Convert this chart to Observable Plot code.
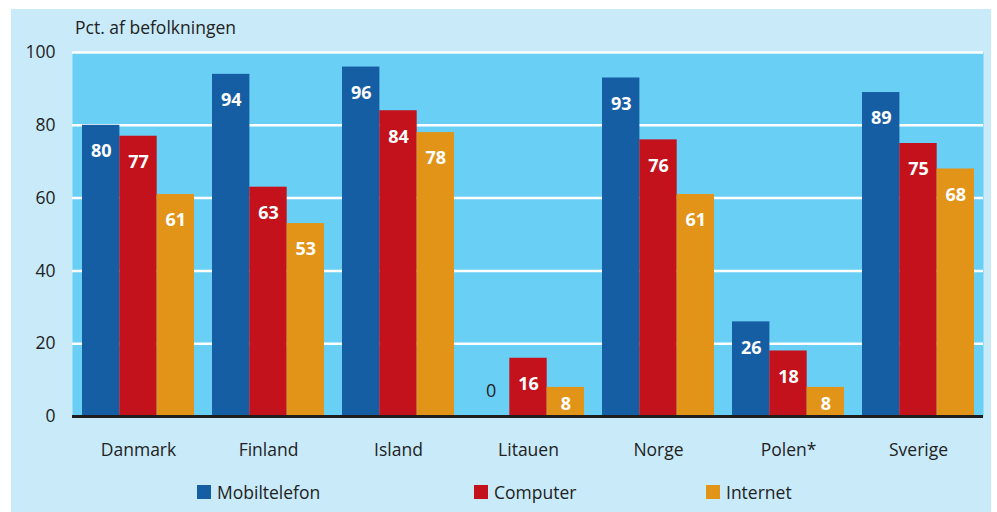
<!DOCTYPE html>
<html><head><meta charset="utf-8">
<script src="https://cdn.jsdelivr.net/npm/d3@7"></script>
<script src="https://cdn.jsdelivr.net/npm/@observablehq/plot@0.6"></script>
<style>
body{margin:0;background:#fff;font-family:"Open Sans",sans-serif;color:#222}
#wrap{position:relative;width:997px;height:512px;overflow:hidden;background:#fff}
#bg{position:absolute;left:11px;top:9px;width:980px;height:503px;background:#c8eaf9}
#title{position:absolute;left:75px;top:14px;font-size:17.5px;line-height:26px;color:#222}
#chart{position:absolute;left:0;top:0}
#legend{position:absolute;left:0;top:479px;width:997px;height:26px;font-size:17.5px}
.li{position:absolute;top:0;display:flex;align-items:center;height:26px}
.sw{width:14px;height:14px;margin-right:6px}
</style></head>
<body><div id="wrap"><div id="bg"></div><div id="chart"></div><div id="title">Pct. af befolkningen</div><div id="legend"></div></div>
<script>
const countries = ["Danmark","Finland","Island","Litauen","Norge","Polen*","Sverige"];
const mobiltelefon = [80,94,96,0,93,26,89];
const computer = [77,63,84,16,76,18,75];
const internet = [61,53,78,8,61,8,68];
const seriesNames = ["Mobiltelefon","Computer","Internet"];
const seriesColors = ["#155ea4","#c4121c","#e29419"];
const yTicks = [0,20,40,60,80,100];

const W = 997, H = 470, mL = 72, mR = 14, mT = 52, mB = 54;
const pIn = 0.14, pOut = 0.07;
const step = (W - mL - mR) / (countries.length - pIn + 2 * pOut);
const bw = step * (1 - pIn);
const third = bw / 3;

const seriesVals = [mobiltelefon, computer, internet];
const rows = [];
seriesVals.forEach((vals, s) => countries.forEach((c, i) => rows.push({country: c, s, v: vals[i]})));

const barMarks = seriesNames.map((n, s) => Plot.barY(rows.filter(r => r.s === s), {
  x: "country", y: "v", fill: seriesColors[s],
  insetLeft: s * third, insetRight: (2 - s) * third
}));
const labelMarks = [0,1,2].flatMap(s => [
  Plot.text(rows.filter(r => r.s === s && r.v >= 10), {x: "country", y: "v", text: d => String(d.v), dx: (s - 1) * third, dy: 26, fill: "white", fontWeight: "bold", fontSize: 18}),
  Plot.text(rows.filter(r => r.s === s && r.v > 0 && r.v < 10), {x: "country", y: "v", text: d => String(d.v), dx: (s - 1) * third, dy: 17, fill: "white", fontWeight: "bold", fontSize: 18}),
  Plot.text(rows.filter(r => r.s === s && r.v === 0), {x: "country", y: "v", text: d => String(d.v), dx: (s - 1) * third, dy: -25, fill: "#222", fontSize: 18})
]);

const chart = Plot.plot({
  width: W, height: H,
  marginLeft: mL, marginRight: mR, marginTop: mT, marginBottom: mB,
  style: {background: "transparent", fontFamily: "Open Sans, sans-serif", fontSize: "17.5px", color: "#222"},
  x: {domain: countries, paddingInner: pIn, paddingOuter: pOut, label: null},
  y: {domain: [0, 100], label: null},
  marks: [
    Plot.frame({fill: "#6acff5", stroke: null}),
    Plot.ruleY(yTicks.filter(t => t > 0), {stroke: "white", strokeWidth: 2.5}),
    ...barMarks,
    Plot.ruleY([0], {stroke: "#1e1e1e", strokeWidth: 3}),
    ...labelMarks,
    Plot.axisY(yTicks, {tickSize: 0, tickPadding: 17, fontSize: 17.5, label: null}),
    Plot.axisX({tickSize: 0, tickPadding: 27, fontSize: 17.5, label: null})
  ]
});
document.getElementById("chart").appendChild(chart);

const lg = document.getElementById("legend");
const lx = [197, 474, 706];
seriesNames.forEach((n, i) => {
  const d = document.createElement("div");
  d.className = "li"; d.style.left = lx[i] + "px";
  d.innerHTML = `<span class="sw" style="background:${seriesColors[i]}"></span><span>${n}</span>`;
  lg.appendChild(d);
});
</script></body></html>
